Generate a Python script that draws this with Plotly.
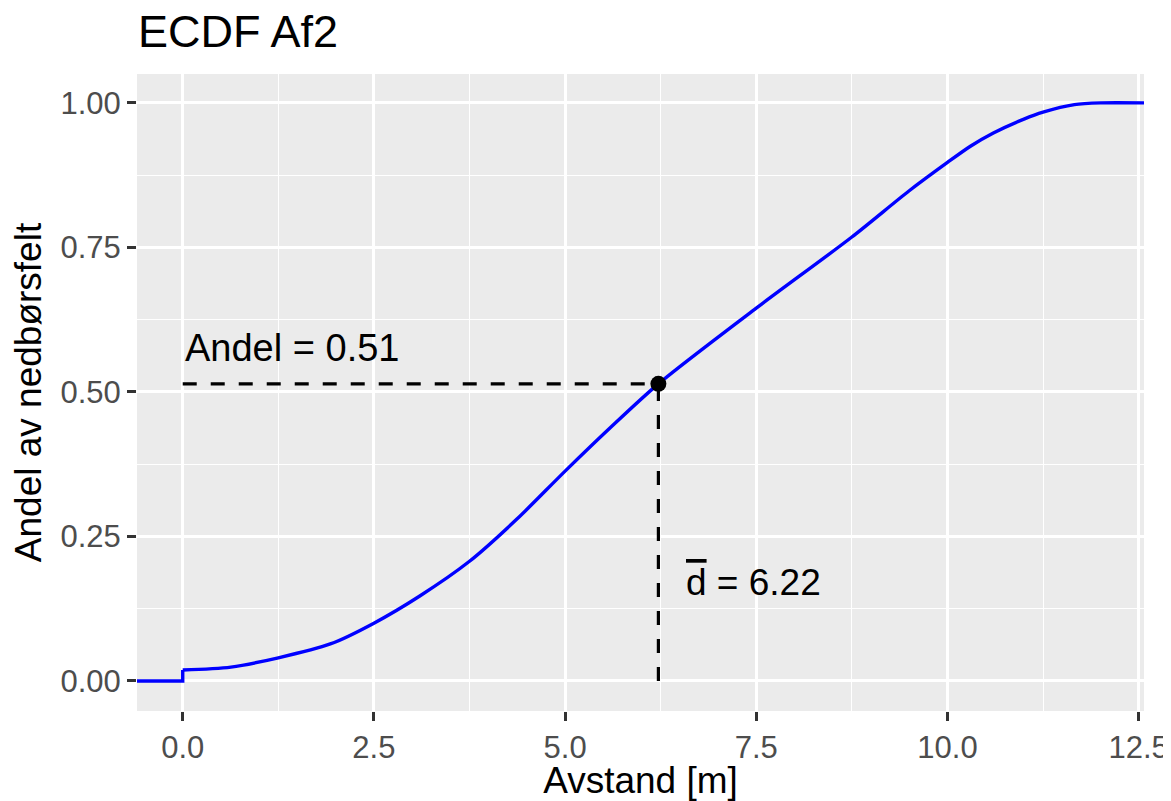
import plotly.graph_objects as go

# ECDF curve
flat_x = [-0.598, 0.0, 0.0]
flat_y = [0.0, 0.0, 0.019]
curve_x = [0.0, 0.63, 1.25, 1.93, 2.5, 3.1, 3.75, 4.37, 5.0, 5.59, 6.22,
           7.5, 8.75, 9.5, 10.0, 10.3, 10.6, 11.0, 11.25, 11.66, 12.0, 12.57]
curve_y = [0.019, 0.024, 0.040, 0.064, 0.100, 0.147, 0.207, 0.280, 0.363, 0.438, 0.514,
           0.645, 0.768, 0.848, 0.897, 0.925, 0.948, 0.972, 0.984, 0.997, 1.0, 1.0]

d_mean = 6.22
andel = 0.514
andel_label = "Andel = 0.51"
d_label = '<span style="text-decoration:overline">d</span> = 6.22'

x_ticks = [0.0, 2.5, 5.0, 7.5, 10.0, 12.5]
x_ticktext = ["0.0", "2.5", "5.0", "7.5", "10.0", "12.5"]
y_ticks = [0.0, 0.25, 0.5, 0.75, 1.0]
y_ticktext = ["0.00", "0.25", "0.50", "0.75", "1.00"]

FONT = "Liberation Sans, Arial, sans-serif"
W, H = 1163, 793  # page body adds an 8px offset

fig = go.Figure()

fig.add_trace(go.Scatter(x=flat_x, y=flat_y, mode="lines",
                         line=dict(color="#0000FF", width=3.4), showlegend=False))
fig.add_trace(go.Scatter(x=curve_x, y=curve_y, mode="lines",
                         line=dict(color="#0000FF", width=3.4, shape="spline", smoothing=0.8),
                         showlegend=False))
# dashed guides
fig.add_trace(go.Scatter(x=[0.0, d_mean], y=[andel, andel], mode="lines",
                         line=dict(color="black", width=3.2, dash="14px,14px"), showlegend=False))
fig.add_trace(go.Scatter(x=[d_mean, d_mean], y=[0.0, andel], mode="lines",
                         line=dict(color="black", width=3.2, dash="14px,14px"), showlegend=False))
fig.add_trace(go.Scatter(x=[d_mean], y=[andel], mode="markers",
                         marker=dict(color="black", size=16), showlegend=False))

fig.add_annotation(x=0.0, y=0.576, text=andel_label, showarrow=False,
                   xanchor="left", yanchor="middle", font=dict(family=FONT, size=38, color="black"))
fig.add_annotation(x=6.55, y=0.17, text=d_label, showarrow=False,
                   xanchor="left", yanchor="middle", font=dict(family=FONT, size=37, color="black"))

axis_common = dict(
    showline=False, zeroline=False,
    gridcolor="white", gridwidth=2.8,
    ticks="outside", ticklen=9, tickwidth=2.8, tickcolor="#333333",
    tickfont=dict(family=FONT, size=31, color="#4D4D4D"),
    automargin=False,
)
fig.update_xaxes(range=[-0.598, 12.57], tickvals=x_ticks, ticktext=x_ticktext,
                 minor=dict(tickvals=[1.25, 3.75, 6.25, 8.75, 11.25], showgrid=True,
                            gridcolor="white", gridwidth=1.4, ticks=""),
                 title=dict(text="Avstand [m]", font=dict(family=FONT, size=37, color="black"), standoff=8),
                 ticklabelstandoff=0,
                 **axis_common)
fig.update_yaxes(range=[-0.052, 1.05], tickvals=y_ticks, ticktext=y_ticktext,
                 minor=dict(tickvals=[0.125, 0.375, 0.625, 0.875], showgrid=True,
                            gridcolor="white", gridwidth=1.4, ticks=""),
                 title=dict(text="Andel av nedbørsfelt", font=dict(family=FONT, size=37, color="black"), standoff=12),
                 ticklabelstandoff=0,
                 **axis_common)

fig.update_layout(
    width=W, height=H,
    margin=dict(l=129, r=27, t=66, b=90),
    paper_bgcolor="white", plot_bgcolor="#EBEBEB",
    title=dict(text="ECDF Af2", x=130/W, xref="container", xanchor="left",
               y=1 - 23/H, yref="container", yanchor="middle",
               font=dict(family=FONT, size=45, color="black")),
)

fig.write_html("out.html")
